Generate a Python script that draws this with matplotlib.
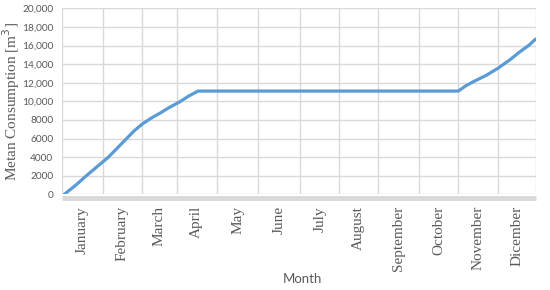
import matplotlib
matplotlib.use("Agg")
import matplotlib.pyplot as plt
from matplotlib.ticker import FuncFormatter, FixedLocator

# ---- data ----
months = ["January", "February", "March", "April", "May", "June", "July",
          "August", "September", "October", "November", "Dicember"]
# month boundaries on the day axis (as drawn in the reference)
month_edges = [0, 31.6, 61.6, 88.6, 119.4, 151.4, 183.5, 213.8, 243.8,
               275.4, 305.4, 335.7, 365]
days = [2, 11, 19, 27.5, 36, 43, 50, 56, 62, 69, 76, 83, 91, 98, 105,
        305.4, 311, 317, 327, 336, 345, 353, 360, 365]
consumption = [0, 1000, 2000, 3000, 4000, 5000, 6000, 6850, 7550, 8200, 8750,
               9350, 9950, 10580, 11100,
               11100, 11650, 12110, 12800, 13560, 14450, 15340, 16050, 16700]

TXT = "#595959"
GRID = "#d9d9d9"
BLUE = "#5b9bd5"

fig = plt.figure(figsize=(5.5, 2.9), dpi=100)
ax = fig.add_axes([61.7 / 550, 1 - 194.3 / 290, 474 / 550, (194.3 - 8.3) / 290])

ax.plot(days, consumption, color=BLUE, lw=2.3, solid_capstyle="round",
        solid_joinstyle="round", zorder=3)

ax.set_xlim(month_edges[0], month_edges[-1])
ax.set_ylim(0, 20000)

# gridlines
for x in month_edges:
    ax.axvline(x, color=GRID, lw=1.0, zorder=1)
ax.set_yticks(range(0, 20001, 2000))
ax.yaxis.grid(True, color=GRID, lw=1.0, zorder=1)
ax.set_axisbelow(True)

for s in ["top", "right", "left"]:
    ax.spines[s].set_visible(False)
ax.spines["bottom"].set_color(GRID)
ax.spines["bottom"].set_linewidth(3.5)
ax.spines["bottom"].set_capstyle("butt")
ax.spines["bottom"].set_position(("outward", 2.5))

ax.yaxis.set_major_formatter(FuncFormatter(
    lambda v, p: f"{int(v):,}" if v >= 10000 else f"{int(v)}"))
ax.tick_params(axis="y", length=0, pad=6, labelsize=7.3, labelcolor=TXT)
for lab in ax.get_yticklabels():
    lab.set_family(["Lato", "DejaVu Sans"])

centers = [(month_edges[i] + month_edges[i + 1]) / 2 for i in range(12)]
ax.xaxis.set_major_locator(FixedLocator(centers))
ax.set_xticklabels(months, rotation=90, va="top", ha="center",
                   family=["Liberation Serif"], fontsize=11, color=TXT)
ax.tick_params(axis="x", length=0, pad=6)

ax.set_ylabel("Metan Consumption [m$^3$]", family=["Liberation Serif"],
              fontsize=11, color=TXT)
ax.yaxis.set_label_coords((22 - 61.7) / 474, 0.5)

fig.text(302 / 550, 1 - 279 / 290, "Month", family=["Lato", "DejaVu Sans"],
         fontsize=9.5, color=TXT, ha="center", va="center")

fig.savefig("out.png", dpi=100)
